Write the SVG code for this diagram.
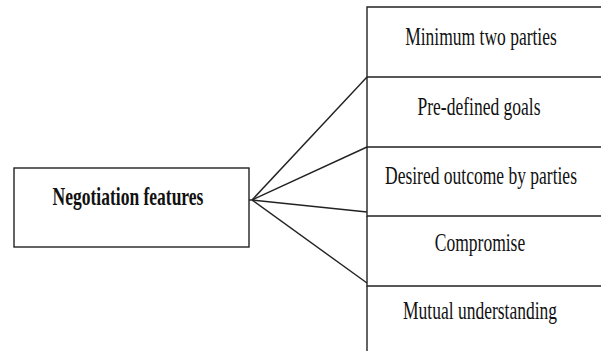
<svg xmlns="http://www.w3.org/2000/svg" width="601" height="351" viewBox="0 0 601 351">
<style>
.box{fill:#fff;stroke:#222;stroke-width:1.4}
.ln{stroke:#222;stroke-width:1.4;fill:none}
.t{font-family:"Liberation Serif","Times New Roman",serif;font-size:17.5px;fill:#111;text-anchor:middle}
.b{font-weight:bold}
</style>
<rect width="601" height="351" fill="#fff"/>
<g id="node-main">
<rect class="box" x="14" y="168" width="235" height="79"/>
<text class="t b" transform="translate(128,205) scale(1,1.42)">Negotiation features</text>
</g>
<g id="node-1">
<path class="ln" d="M601 7 H367 V77 H601"/>
<text class="t" transform="translate(481,45) scale(1,1.42)">Minimum two parties</text>
</g>
<g id="node-2">
<path class="ln" d="M367 77 V147 H601"/>
<text class="t" transform="translate(479,115) scale(1,1.42)">Pre-defined goals</text>
</g>
<g id="node-3">
<path class="ln" d="M367 147 V216 H601"/>
<text class="t" transform="translate(481,184) scale(1,1.42)">Desired outcome by parties</text>
</g>
<g id="node-4">
<path class="ln" d="M367 216 V286 H601"/>
<text class="t" transform="translate(480,251) scale(1,1.42)">Compromise</text>
</g>
<g id="node-5">
<path class="ln" d="M367 286 V351"/>
<text class="t" transform="translate(480,319) scale(1,1.42)">Mutual understanding</text>
</g>
<g id="connectors">
<path class="ln" d="M249 200 H252"/>
<path class="ln" d="M252 200 L367 77"/>
<path class="ln" d="M252 200 L367 147"/>
<path class="ln" d="M252 200 L367 212"/>
<path class="ln" d="M252 200 L367 283"/>
</g>
</svg>
